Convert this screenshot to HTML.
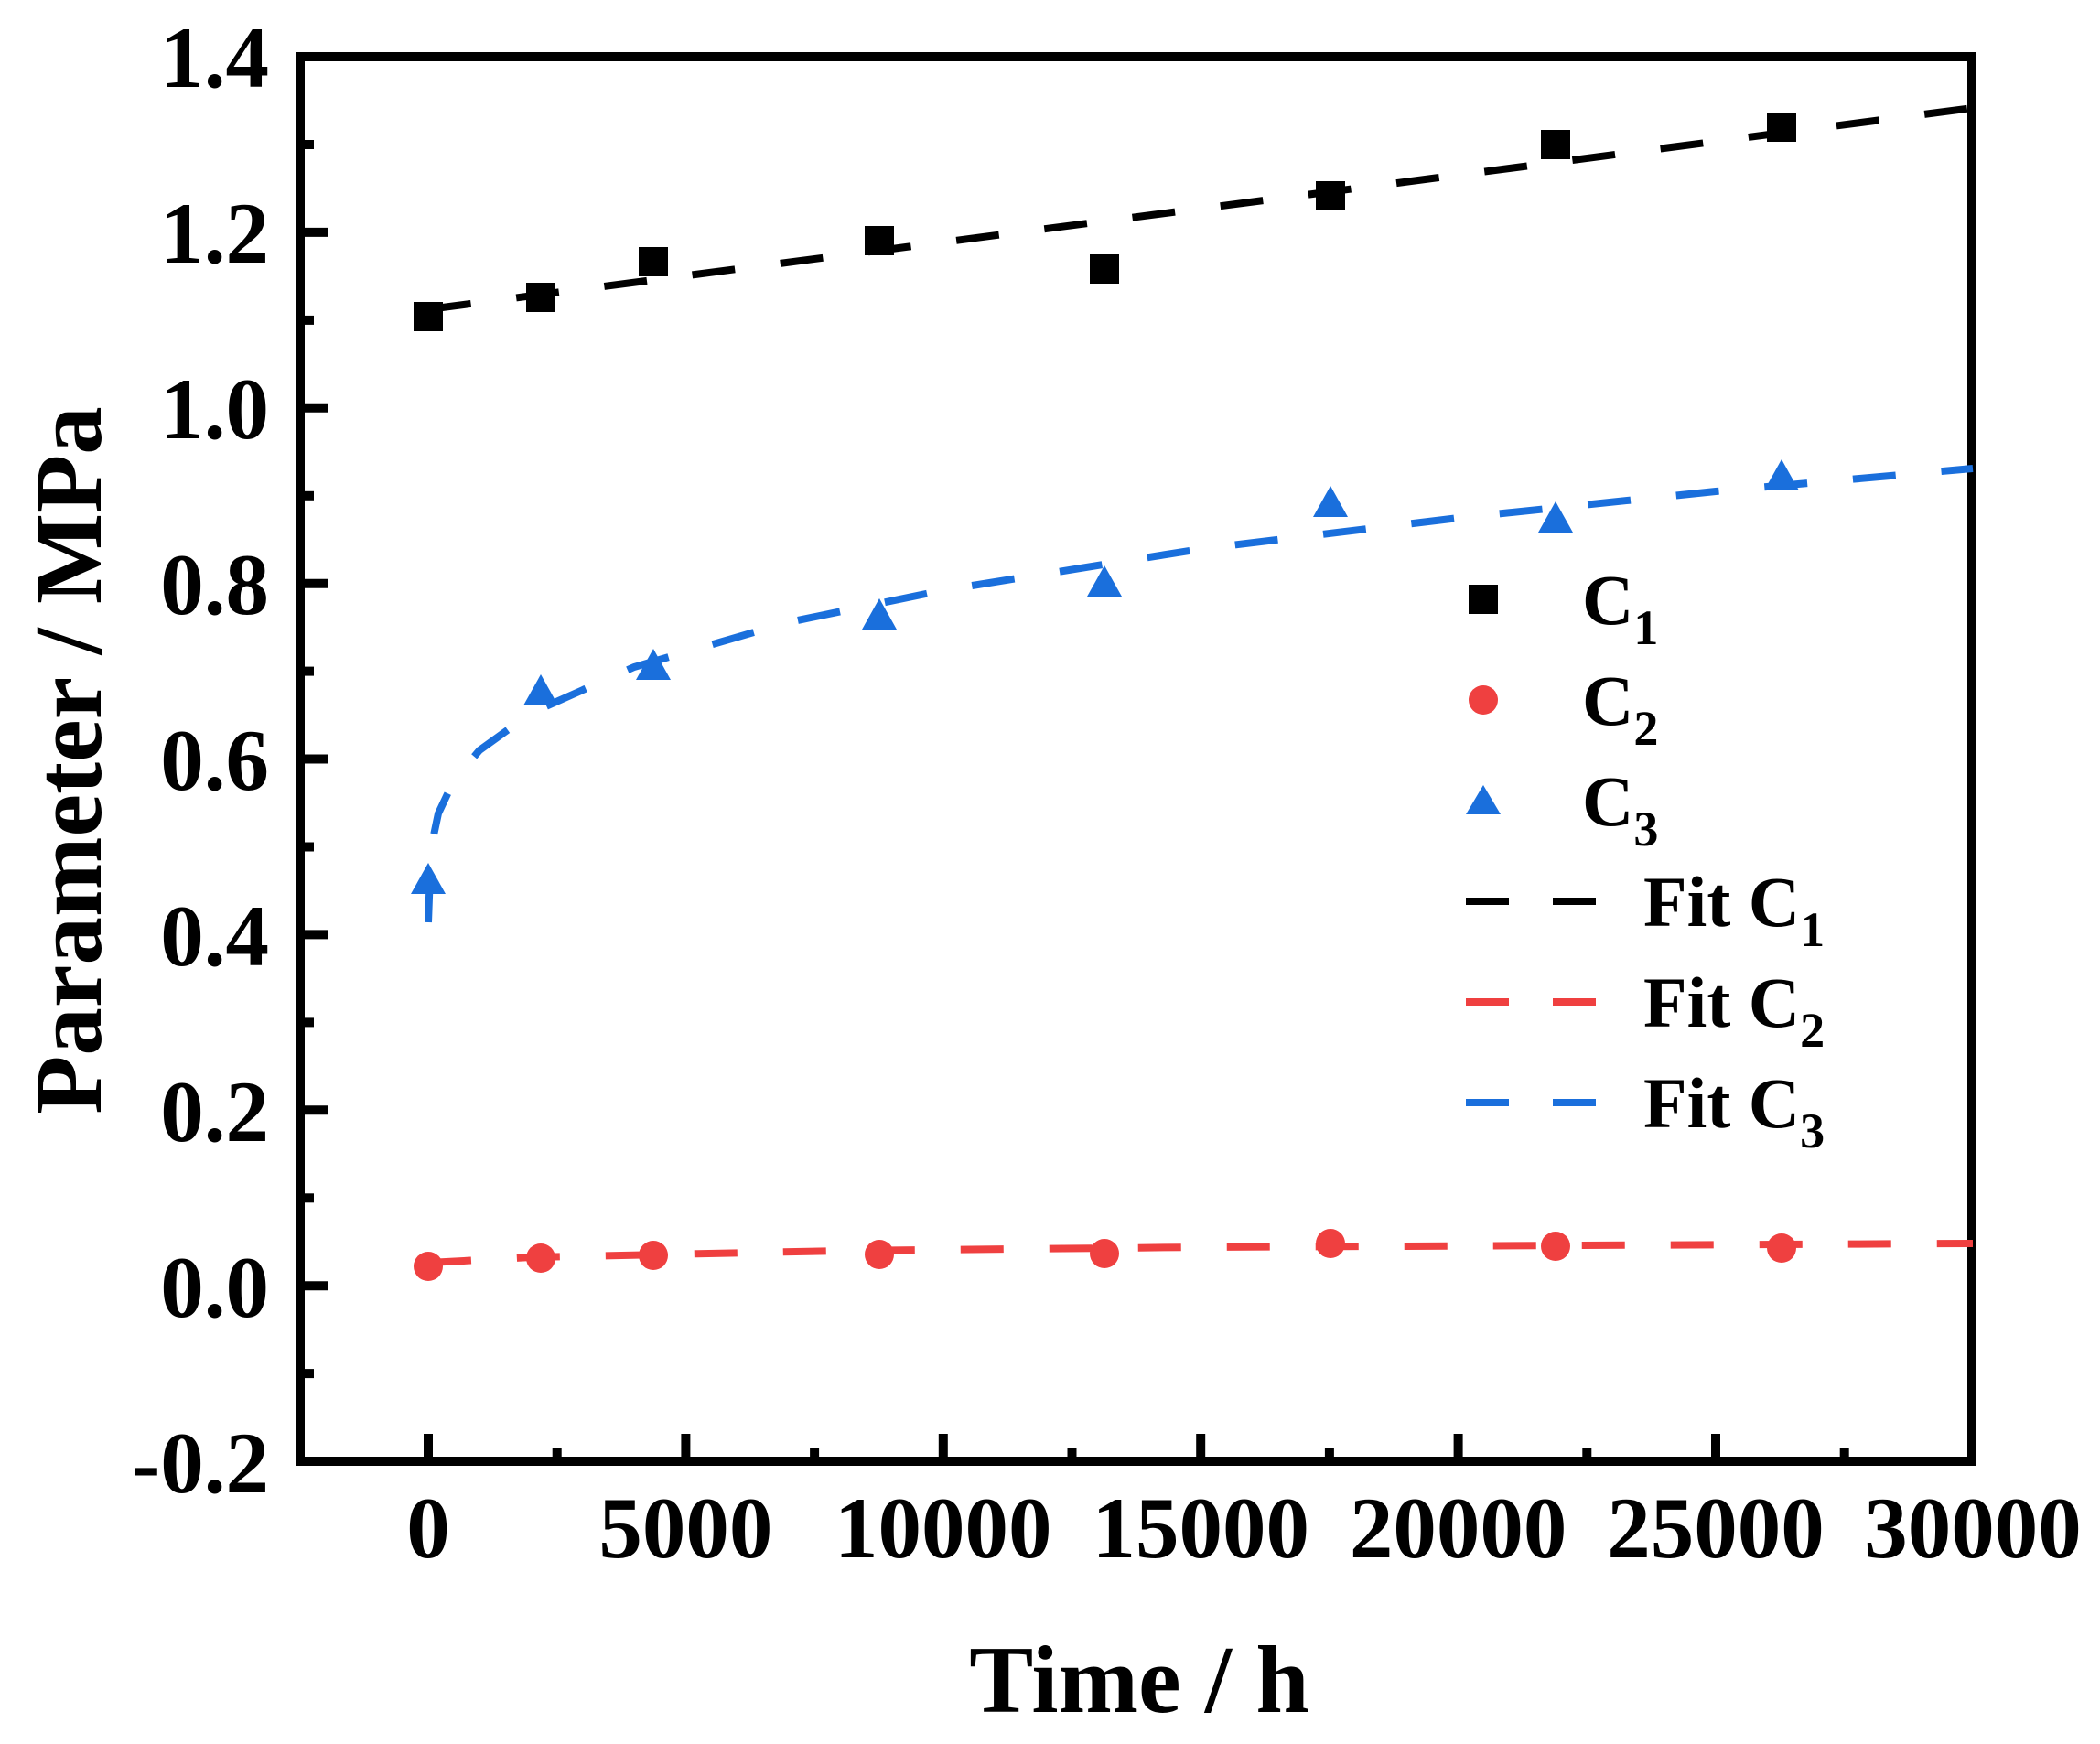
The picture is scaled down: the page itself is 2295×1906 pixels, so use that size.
<!DOCTYPE html>
<html><head><meta charset="utf-8"><style>
html,body{margin:0;padding:0;background:#fff;}
svg{display:block;}
text{font-family:"Liberation Serif",serif;font-weight:bold;fill:#000;}
</style></head><body>
<svg width="2295" height="1906" viewBox="0 0 2295 1906" xmlns="http://www.w3.org/2000/svg">
<g stroke="#000" stroke-width="10">
<line x1="333" y1="62" x2="358" y2="62"/><line x1="333" y1="253.9" x2="358" y2="253.9"/><line x1="333" y1="445.8" x2="358" y2="445.8"/><line x1="333" y1="637.7" x2="358" y2="637.7"/><line x1="333" y1="829.5" x2="358" y2="829.5"/><line x1="333" y1="1021.4" x2="358" y2="1021.4"/><line x1="333" y1="1213.3" x2="358" y2="1213.3"/><line x1="333" y1="1405.2" x2="358" y2="1405.2"/>
<line x1="333" y1="158" x2="343" y2="158"/><line x1="333" y1="349.9" x2="343" y2="349.9"/><line x1="333" y1="541.8" x2="343" y2="541.8"/><line x1="333" y1="733.6" x2="343" y2="733.6"/><line x1="333" y1="925.5" x2="343" y2="925.5"/><line x1="333" y1="1117.4" x2="343" y2="1117.4"/><line x1="333" y1="1309.3" x2="343" y2="1309.3"/><line x1="333" y1="1501.1" x2="343" y2="1501.1"/>
<line x1="468" y1="1592" x2="468" y2="1567"/><line x1="749.4" y1="1592" x2="749.4" y2="1567"/><line x1="1030.8" y1="1592" x2="1030.8" y2="1567"/><line x1="1312.2" y1="1592" x2="1312.2" y2="1567"/><line x1="1593.6" y1="1592" x2="1593.6" y2="1567"/><line x1="1875" y1="1592" x2="1875" y2="1567"/>
<line x1="608.7" y1="1592" x2="608.7" y2="1582"/><line x1="890.1" y1="1592" x2="890.1" y2="1582"/><line x1="1171.5" y1="1592" x2="1171.5" y2="1582"/><line x1="1452.9" y1="1592" x2="1452.9" y2="1582"/><line x1="1734.3" y1="1592" x2="1734.3" y2="1582"/><line x1="2015.7" y1="1592" x2="2015.7" y2="1582"/>
</g>
<rect x="328" y="62" width="1827" height="1535" fill="none" stroke="#000" stroke-width="10"/>
<g font-size="95" text-anchor="end">
<text x="294" y="95">1.4</text><text x="294" y="287">1.2</text><text x="294" y="479">1.0</text><text x="294" y="671">0.8</text><text x="294" y="863">0.6</text><text x="294" y="1055">0.4</text><text x="294" y="1247">0.2</text><text x="294" y="1439">0.0</text><text x="294" y="1631">-0.2</text>
</g>
<g font-size="95" text-anchor="middle">
<text x="468" y="1702">0</text><text x="749.4" y="1702">5000</text><text x="1030.8" y="1702">10000</text><text x="1312.2" y="1702">15000</text><text x="1593.6" y="1702">20000</text><text x="1875" y="1702">25000</text><text x="2156" y="1702">30000</text>
</g>
<text x="1245" y="1871" font-size="105" text-anchor="middle">Time / h</text>
<text transform="translate(110,831) rotate(-90)" font-size="105" text-anchor="middle">Parameter / MPa</text>
<g fill="none" stroke-width="8" stroke-dasharray="47 50">
<polyline stroke="#000" points="468,338 2156,118"/>
<polyline stroke="#ef4040" points="468,1380 581,1374 918,1367 1312,1363 2156,1359"/>
<polyline stroke="#1a6fdc" points="468,1008 471,927 479,889 496,853 524,820 581,779 693,729 862,680 1031,645 1312,600 1594,566 1875,537 2156,512"/>
</g>
<g fill="#000">
<rect x="452" y="330" width="32" height="32"/><rect x="575" y="309" width="32" height="32"/><rect x="698" y="270" width="32" height="32"/><rect x="945" y="247" width="32" height="32"/><rect x="1191" y="278" width="32" height="32"/><rect x="1438" y="198" width="32" height="32"/><rect x="1684" y="142" width="32" height="32"/><rect x="1931" y="123" width="32" height="32"/>
</g>
<g fill="#ef4040">
<circle cx="468" cy="1384" r="16"/><circle cx="591" cy="1375" r="16"/><circle cx="714" cy="1372" r="16"/><circle cx="961" cy="1371" r="16"/><circle cx="1207" cy="1370" r="16"/><circle cx="1454" cy="1359" r="16"/><circle cx="1700" cy="1362" r="16"/><circle cx="1947" cy="1364" r="16"/>
</g>
<g fill="#1a6fdc">
<polygon points="468,943 449,977 487,977"/><polygon points="591,737 572,771 610,771"/><polygon points="714,709 695,743 733,743"/><polygon points="961,654 942,688 980,688"/><polygon points="1207,618 1188,652 1226,652"/><polygon points="1454,531 1435,565 1473,565"/><polygon points="1700,548 1681,582 1719,582"/><polygon points="1947,502 1928,536 1966,536"/>
</g>
<g transform="translate(-9,-4)">
<rect x="1614" y="643" width="32" height="32" fill="#000"/>
<circle cx="1630" cy="769" r="16" fill="#ef4040"/>
<polygon points="1630,862 1611,894 1649,894" fill="#1a6fdc"/>
<g stroke-width="8">
<line x1="1611" y1="989" x2="1658" y2="989" stroke="#000"/><line x1="1706" y1="989" x2="1753" y2="989" stroke="#000"/>
<line x1="1611" y1="1099" x2="1658" y2="1099" stroke="#ef4040"/><line x1="1706" y1="1099" x2="1753" y2="1099" stroke="#ef4040"/>
<line x1="1611" y1="1209" x2="1658" y2="1209" stroke="#1a6fdc"/><line x1="1706" y1="1209" x2="1753" y2="1209" stroke="#1a6fdc"/>
</g>
<g font-size="78">
<text x="1738" y="686">C<tspan font-size="54" dy="22">1</tspan></text>
<text x="1738" y="796">C<tspan font-size="54" dy="22">2</tspan></text>
<text x="1738" y="906">C<tspan font-size="54" dy="22">3</tspan></text>
<text x="1805" y="1016">Fit C<tspan font-size="54" dy="22">1</tspan></text>
<text x="1805" y="1126">Fit C<tspan font-size="54" dy="22">2</tspan></text>
<text x="1805" y="1236">Fit C<tspan font-size="54" dy="22">3</tspan></text>
</g>
</g>
</svg>
</body></html>
